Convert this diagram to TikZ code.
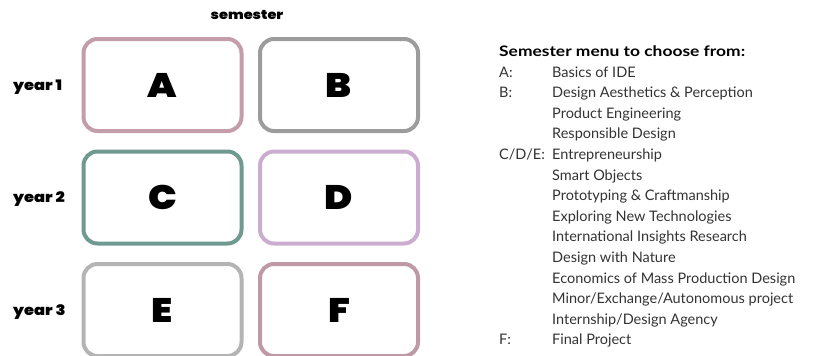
\documentclass[tikz,border=0pt]{standalone}
\usepackage{fontspec}
\setmainfont{Lato}
\newfontfamily\heavy{Poppins Black}[FakeStretch=1.12]
\newfontfamily\headfont{Lato Bold}[FakeStretch=1.2]
\definecolor{mauve}{HTML}{C39DA9}
\definecolor{midgray}{HTML}{9C9C9C}
\definecolor{teal}{HTML}{6F9A8F}
\definecolor{lilac}{HTML}{CBADCF}
\definecolor{lightgray}{HTML}{B4B4B4}
\definecolor{rosegray}{HTML}{BF99A5}
\begin{document}
\begin{tikzpicture}[x=1pt,y=-1pt,
  slot/.style={draw, line width=4pt, rounded corners=14pt, minimum width=158pt,
    minimum height=92pt, inner sep=0pt, font=\heavy\fontsize{34}{34}\selectfont},
  yearlabel/.style={anchor=west, inner sep=0pt, font=\heavy\fontsize{14.5}{14.5}\selectfont},
  item/.style={anchor=base west, inner sep=0pt, font=\fontsize{14.5}{14.5}\selectfont, text=black!80}]
\useasboundingbox (0,0) rectangle (838,356);
% semester grid
\node[inner sep=0pt, font=\heavy\fontsize{13}{13}\selectfont] (sem) at (247,15) {semester};
\node[slot, draw=mauve]     (A) at (162.5,85)  {A};
\node[slot, draw=midgray]   (B) at (339,85)    {B};
\node[slot, draw=teal]      (C) at (162.5,197.5) {C};
\node[slot, draw=lilac]     (D) at (339,197.5) {D};
\node[slot, draw=lightgray] (E) at (162.5,310) {E};
\node[slot, draw=rosegray]  (F) at (339,310)   {F};
\node[yearlabel] (y1) at (13,87)  {year 1};
\node[yearlabel] (y2) at (13,199) {year 2};
\node[yearlabel] (y3) at (13,312) {year 3};
% course menu
\node[anchor=base west, inner sep=0pt, font=\headfont\fontsize{14.5}{14.5}\selectfont] (head) at (499,56) {Semester menu to choose from:};
\node[item] (kA) at (499,77) {A:};
\node[item] (kB) at (499,97.6) {B:};
\node[item] (kC) at (499,159.4) {C/D/E:};
\node[item] (kF) at (499,344.8) {F:};
\foreach \t [count=\i from 0] in {Basics of IDE,
  Design Aesthetics \& Perception,
  Product Engineering,
  Responsible Design,
  Entrepreneurship,
  Smart Objects,
  Prototyping \& Craftmanship,
  Exploring New Technologies,
  International Insights Research,
  Design with Nature,
  Economics of Mass Production Design,
  Minor/Exchange/Autonomous project,
  Internship/Design Agency,
  Final Project}
  \node[item] (t\i) at (552,77+\i*20.6) {\t};
\end{tikzpicture}
\end{document}
